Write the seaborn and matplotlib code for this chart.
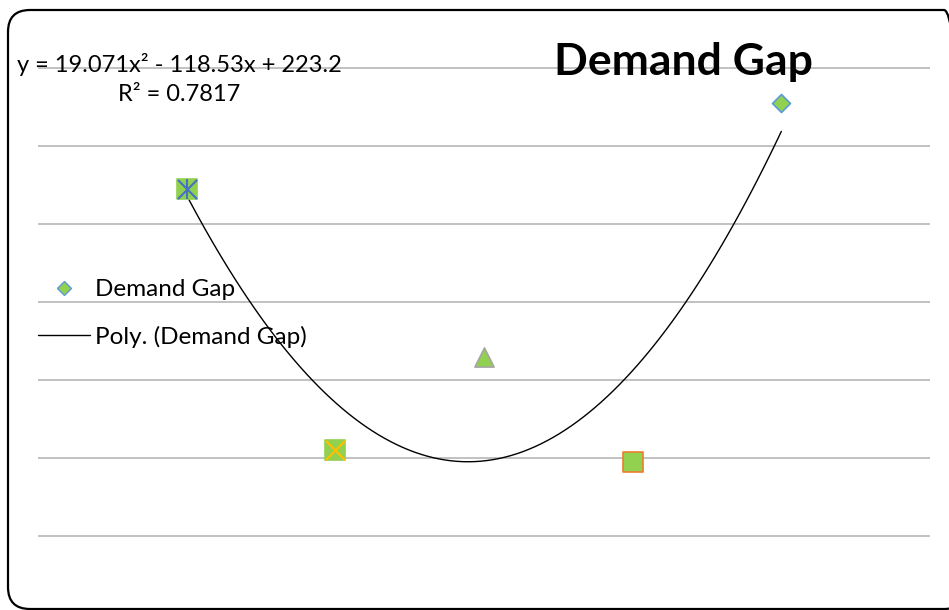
import numpy as np
import pandas as pd
import matplotlib
matplotlib.use("Agg")
import matplotlib.pyplot as plt
import seaborn as sns
from matplotlib.lines import Line2D
from matplotlib.patches import FancyBboxPatch

# data (x axis runs reversed, period 1 sits at the right)
period = [1, 2, 3, 4, 5]
demand_gap = [131, 39, 66, 42, 109]
point_markers = ["D", "s", "^", "s", "s"]
point_edges = ["#5B9BD5", "#ED7D31", "#A5A5A5", "#92D050", "#92D050"]
chart_title = "Demand Gap"
legend_labels = ["Demand Gap", "Poly. (Demand Gap)"]
eq_text = "y = 19.071x² - 118.53x + 223.2\nR² = 0.7817"

df = pd.DataFrame({"period": period, "gap": demand_gap,
                   "marker": point_markers, "edge": point_edges})

sns.set_style("white")
plt.rcParams["font.family"] = ["Lato", "DejaVu Sans"]
plt.rcParams["text.color"] = "black"

fill = "#92D050"
fig = plt.figure(figsize=(9.49, 6.10), dpi=100)
ax = fig.add_axes([38 / 949, (610 - 614) / 610, 892 / 949, (614 - 64.1) / 610])

# polynomial trendline, order 2
sns.regplot(data=df, x="period", y="gap", order=2, ci=None, scatter=False,
            truncate=True, color="black", line_kws={"lw": 1.0, "zorder": 3}, ax=ax)

for i, row in df.iterrows():
    size = 84 if row["marker"] == "D" else 190
    sns.scatterplot(data=df.iloc[[i]], x="period", y="gap", marker=row["marker"],
                    s=size, color=fill, edgecolor=row["edge"], linewidth=1.2,
                    zorder=4, legend=False, ax=ax)

# cross / asterisk overlays on the square markers
sns.scatterplot(data=df.iloc[[3]], x="period", y="gap", marker="x", s=190,
                color="#FFC000", linewidth=1.5, zorder=5, legend=False, ax=ax)
sns.scatterplot(data=df.iloc[[4]], x="period", y="gap", marker="x", s=190,
                color="#4472C4", linewidth=1.5, zorder=5, legend=False, ax=ax)
sns.scatterplot(data=df.iloc[[4]], x="period", y="gap", marker="|", s=190,
                color="#4472C4", linewidth=1.5, zorder=5, legend=False, ax=ax)

ax.set_xlim(6, 0)
ax.set_ylim(0, 141)
ax.set_yticks(np.arange(0, 141, 20))
ax.yaxis.grid(True, color="#B0B0B0", lw=1.1, zorder=0)
ax.xaxis.grid(False)
ax.set_axisbelow(True)
ax.tick_params(left=False, bottom=False, labelleft=False, labelbottom=False)
ax.set_xlabel("")
ax.set_ylabel("")
for s in ax.spines.values():
    s.set_visible(False)
ax.patch.set_alpha(0)

handles = [Line2D([], [], marker="D", ls="none", markersize=7.6,
                  markerfacecolor=fill, markeredgecolor="#5B9BD5"),
           Line2D([], [], color="black", lw=1.0)]
fig.legend(handles, legend_labels, loc="upper left",
           bbox_to_anchor=(38 / 949, 1 - 279 / 610), bbox_transform=fig.transFigure,
           frameon=False, fontsize=17.5, handlelength=2.14, handletextpad=0.2,
           labelspacing=1.05, borderpad=0, borderaxespad=0, labelcolor="black")

fig.text(179 / 949, 1 - 79 / 610, eq_text, ha="center", va="center",
         multialignment="center", fontsize=17, linespacing=1.5)
fig.text(683 / 949, 1 - 75 / 610, chart_title, ha="center", va="baseline",
         fontsize=32, fontweight="bold")

border = FancyBboxPatch((8, 1), 958, 599, boxstyle="round,pad=0,rounding_size=22",
                        transform=None, fill=False, ec="black", lw=1.6)
fig.add_artist(border)

fig.savefig("out.png", dpi=100)
